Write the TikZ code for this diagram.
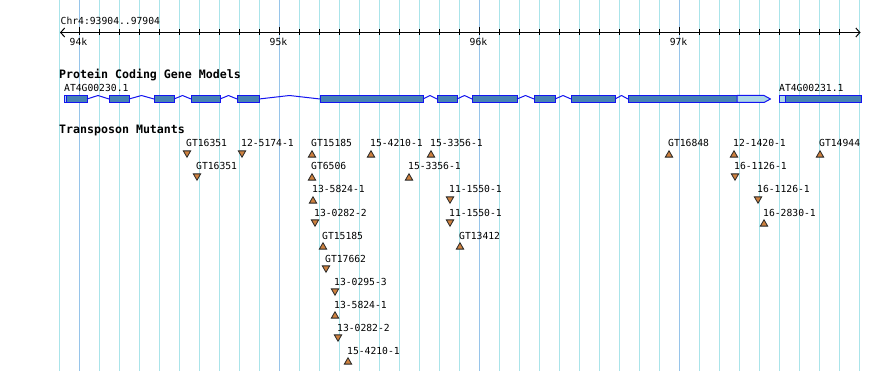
\documentclass[tikz,border=0pt]{standalone}
\usepackage{fontspec}
\setmonofont{DejaVu Sans Mono}
\usetikzlibrary{arrows.meta,calc,shapes.geometric}
\definecolor{gridMinor}{RGB}{170,228,234}
\definecolor{gridMajor}{RGB}{150,196,234}
\definecolor{exonFill}{RGB}{70,130,180}
\definecolor{utrFill}{RGB}{173,216,230}
\definecolor{exonLine}{RGB}{20,20,240}
\definecolor{mutFill}{RGB}{205,128,62}

\def\BrowseSnapLW{1pt}
\def\BrowseSnapExonH{7pt}
\def\BrowseSnapMutSize{8.5pt}
\newcommand{\BrowseSnapStyles}{%
  \tikzset{
    bsgrid/.style={line width=\BrowseSnapLW, gridMinor},
    bsgridMajor/.style={bsgrid, gridMajor},
    bsaxis/.style={
      <->,
      line width=\BrowseSnapLW,
      >={Straight Barb[length=4pt, width=9pt]}},
    bstick/.style={line width=\BrowseSnapLW},
    bstext/.style={font=\fontsize{9.7}{11}\selectfont\ttfamily,
      inner sep=0pt, anchor=base west},
    bstitle/.style={font=\fontsize{11.6}{13}\selectfont\ttfamily\bfseries,
      inner sep=0pt, anchor=base west},
    bsexon/.style={rectangle, draw=exonLine, fill=exonFill,
      line width=\BrowseSnapLW, minimum height=\BrowseSnapExonH,
      inner sep=0pt, outer sep=0pt, anchor=west},
    bsutr/.style={bsexon, fill=utrFill},
    bsintron/.style={exonLine, line width=\BrowseSnapLW, line join=round},
    bsmut/.style={regular polygon, regular polygon sides=3,
      minimum size=\BrowseSnapMutSize, inner sep=0pt,
      draw=black!85, fill=mutFill, line width=0.8pt},
  }%
}

\begin{document}
\begin{tikzpicture}[x=1pt, y=-1pt]
  \BrowseSnapStyles
  \useasboundingbox[fill=white] (0,0) rectangle (890,371);

  % grid
  \foreach \k in {0,...,40}
    \draw[bsgrid] ({59.5+20*\k},0) -- ({59.5+20*\k},371);
  \foreach \k in {1,11,21,31}
    \draw[bsgridMajor] ({59.5+20*\k},0) -- ({59.5+20*\k},371);

  % ruler
  \node[bstext] (chrom) at (60.5,25) {Chr4:93904..97904};
  \coordinate (axL) at (60,32.5);
  \coordinate (axR) at (860.5,32.5);
  \draw[bsaxis] (axL) -- (axR);
  \foreach \k in {1,...,39}
    \draw[bstick] ({59.5+20*\k},29.5) -- ++(0,6);
  \foreach \k/\t in {1/94k, 11/95k, 21/96k, 31/97k} {
    \draw[bstick] ({59.5+20*\k},27) -- ++(0,3);
    \node[bstext, anchor=base] (tk\t) at ({58.5+20*\k},45.5) {\t};
  }

  % gene models
  \node[bstitle] (geneTrack) at (59,79) {Protein Coding Gene Models};
  \node[bstext] (geneA) at (64,92) {AT4G00230.1};
  \node[bsutr, minimum width=2.5pt] (u0) at (64,99) {};
  \foreach \a/\b [count=\i] in {66.5/87, 109/129, 154/174, 191/220,
      237/259, 320/423, 437/457, 472/517, 534/555, 571/615, 628/737}
    \node[bsexon, minimum width={(\b-\a)*1pt}] (e\i) at (\a,99) {};
  \foreach \i [evaluate=\i as \j using int(\i+1)] in {1,...,10}
    \draw[bsintron] (e\i.east)
      -- ($(e\i.east)!0.5!(e\j.west)+(0,-3.5)$) -- (e\j.west);
  \draw[bsintron, fill=utrFill] (e11.north east) -- ++(27,0) -- ++(6.5,3.5)
    -- ++(-6.5,3.5) -- (e11.south east) -- cycle;
  \node[bstext] (geneB) at (779,92) {AT4G00231.1};
  \node[bsutr, minimum width=6pt] (u12) at (779,99) {};
  \node[bsexon, minimum width=76pt] (e12) at (785,99) {};

  % transposon mutants
  \node[bstitle] (mutTrack) at (59,134) {Transposon Mutants};
  \foreach \mx/\mrow/\mrot/\mname [count=\i] in {
      187/0/180/GT16351, 242/0/180/12-5174-1, 312/0/0/GT15185,
      371/0/0/15-4210-1, 431/0/0/15-3356-1, 669/0/0/GT16848,
      734/0/0/12-1420-1, 820/0/0/GT14944,
      197/1/180/GT16351, 312/1/0/GT6506, 409/1/0/15-3356-1,
      735/1/180/16-1126-1,
      313/2/0/13-5824-1, 450/2/180/11-1550-1, 758/2/180/16-1126-1,
      315/3/180/13-0282-2, 450/3/180/11-1550-1, 764/3/0/16-2830-1,
      323/4/0/GT15185, 460/4/0/GT13412,
      326/5/180/GT17662, 335/6/180/13-0295-3, 335/7/0/13-5824-1,
      338/8/180/13-0282-2, 348/9/0/15-4210-1} {
    \node[bsmut, rotate=\mrot] (m\i) at (\mx,{154+23*\mrow+1-\mrot/90}) {};
    \node[bstext] (l\i) at (\mx-1,147+23*\mrow) {\mname};
  }
\end{tikzpicture}
\end{document}
